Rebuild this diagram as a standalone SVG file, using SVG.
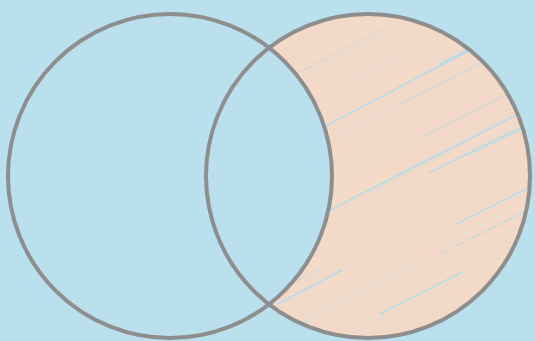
<svg xmlns="http://www.w3.org/2000/svg" width="535" height="341" viewBox="0 0 535 341">
<style>
.ring{fill:none;stroke:#8e8e8e;stroke-width:4}
.h{stroke:#b3dcec;stroke-linecap:round;fill:none}
.a{stroke-width:1.8;opacity:.9}
.b{stroke-width:1.3;opacity:.6}
.c{stroke-width:1;opacity:.4}
</style>
<defs>
<clipPath id="only-b"><path d="M269,48 A162,162 0 1 1 269,304 A162,162 0 0 0 269,48 Z"/></clipPath>
</defs>
<rect width="535" height="341" fill="#b9e0ec"/>
<g id="region-b-only">
<path d="M269,48 A162,162 0 1 1 269,304 A162,162 0 0 0 269,48 Z" fill="#f2d9c8"/>
<g clip-path="url(#only-b)">
<line class="h b" x1="300" y1="72" x2="382" y2="30"/>
<line class="h a" x1="322" y1="128" x2="470" y2="50"/>
<line class="h c" x1="330" y1="140" x2="420" y2="94"/>
<line class="h b" x1="400" y1="104" x2="522" y2="42"/>
<line class="h a" x1="330" y1="210" x2="522" y2="112"/>
<line class="h c" x1="370" y1="192" x2="450" y2="152"/>
<line class="h a" x1="430" y1="172" x2="532" y2="122"/>
<line class="h b" x1="420" y1="138" x2="532" y2="82"/>
<line class="h a" x1="278" y1="304" x2="342" y2="270"/>
<line class="h b" x1="300" y1="324" x2="424" y2="262"/>
<line class="h c" x1="350" y1="334" x2="500" y2="258"/>
<line class="h a" x1="456" y1="224" x2="532" y2="186"/>
<line class="h b" x1="440" y1="254" x2="532" y2="208"/>
<line class="h c" x1="390" y1="232" x2="470" y2="192"/>
<line class="h a" x1="476" y1="304" x2="532" y2="276"/>
<line class="h c" x1="330" y1="92" x2="400" y2="56"/>
<line class="h a" x1="440" y1="64" x2="512" y2="26"/>
<line class="h b" x1="266" y1="296" x2="322" y2="268"/>
<line class="h a" x1="380" y1="314" x2="462" y2="272"/>
<line class="h c" x1="330" y1="166" x2="392" y2="134"/>
<line class="h b" x1="466" y1="156" x2="532" y2="124"/>
<line class="h a" x1="440" y1="332" x2="532" y2="286"/>
</g>
</g>
<g id="set-a"><circle class="ring" cx="170" cy="176" r="162"/></g>
<g id="set-b"><circle class="ring" cx="368" cy="176" r="162"/></g>
</svg>
